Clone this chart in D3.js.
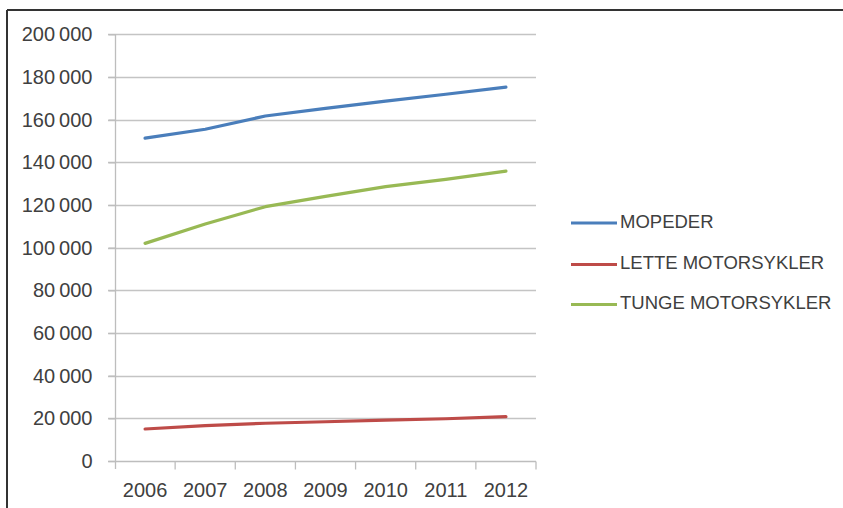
<!DOCTYPE html>
<html>
<head>
<meta charset="utf-8">
<script src="https://cdn.jsdelivr.net/npm/d3@7"></script>
<style>
  html, body { margin: 0; padding: 0; background: #fff; }
  svg { display: block; }
  text { font-family: "Liberation Sans", Arial, sans-serif; fill: #404040; }
</style>
</head>
<body>
<script>
const years = ["2006", "2007", "2008", "2009", "2010", "2011", "2012"];
const seriesNames = ["MOPEDER", "LETTE MOTORSYKLER", "TUNGE MOTORSYKLER"];
const mopeder = [151300, 155500, 161700, 165300, 168700, 171900, 175200];
const lette = [15000, 16600, 17700, 18400, 19200, 19800, 20800];
const tunge = [102000, 111100, 119200, 124000, 128600, 132000, 135900];
const seriesColors = ["#4a7ebb", "#be4b48", "#98b954"];
const yTicks = [0, 20000, 40000, 60000, 80000, 100000, 120000, 140000, 160000, 180000, 200000];

const W = 843, H = 508;
const svg = d3.select("body").append("svg").attr("width", W).attr("height", H);

// frame (top and left borders)
svg.append("line").attr("x1", 7).attr("x2", W).attr("y1", 10).attr("y2", 10)
  .attr("stroke", "#333").attr("stroke-width", 2);
svg.append("line").attr("x1", 7).attr("x2", 7).attr("y1", 10).attr("y2", H)
  .attr("stroke", "#333").attr("stroke-width", 2);

const x = d3.scaleBand().domain(years).range([115, 536]).padding(0);
const y = d3.scaleLinear().domain([0, 200000]).range([461, 34.3]);

const loc = d3.formatLocale({ decimal: ",", thousands: "\u2009", grouping: [3], currency: ["", ""] });
const fmt = loc.format(",d");

// gridlines
svg.append("g").selectAll("line").data(yTicks.filter(d => d > 0)).join("line")
  .attr("x1", 108).attr("x2", 536)
  .attr("y1", d => Math.round(y(d)) + 0.5).attr("y2", d => Math.round(y(d)) + 0.5)
  .attr("stroke", "#c4c4c4").attr("stroke-width", 1.3);

// y axis
const yAxis = d3.axisLeft(y).tickValues(yTicks).tickSize(7).tickPadding(16).tickFormat(fmt);
const gy = svg.append("g").attr("transform", "translate(115.5,0)").call(yAxis);
gy.select(".domain").remove();
gy.append("line").attr("x1", 0).attr("x2", 0).attr("y1", y(200000)).attr("y2", 469)
  .attr("stroke", "#bdbdbd").attr("stroke-width", 1.3);
gy.selectAll(".tick line").attr("stroke", "#bdbdbd").attr("stroke-width", 1.3);
gy.selectAll(".tick text").attr("font-size", 20).attr("fill", "#404040")
  .style("font-family", "'Liberation Sans', Arial, sans-serif");

// x axis
const gx = svg.append("g").attr("transform", "translate(0,461.5)");
gx.append("line").attr("x1", 108).attr("x2", 536).attr("y1", 0).attr("y2", 0)
  .attr("stroke", "#bdbdbd").attr("stroke-width", 1.3);
const bounds = years.map(d => x(d)).concat([x.range()[1]]).slice(1);
gx.selectAll("line.tk").data(bounds).join("line").attr("class", "tk")
  .attr("x1", d => d).attr("x2", d => d).attr("y1", 0).attr("y2", 8)
  .attr("stroke", "#bdbdbd").attr("stroke-width", 1.3);
gx.selectAll("text").data(years).join("text")
  .attr("x", d => x(d) + x.bandwidth() / 2).attr("y", 30)
  .attr("text-anchor", "middle").attr("dominant-baseline", "middle")
  .attr("font-size", 20).text(d => d);

// lines
const allSeries = [mopeder, lette, tunge];
const line = d3.line().x((d, i) => x(years[i]) + x.bandwidth() / 2).y(d => y(d));
svg.append("g").selectAll("path").data(allSeries).join("path")
  .attr("d", d => line(d)).attr("fill", "none")
  .attr("stroke", (d, i) => seriesColors[i]).attr("stroke-width", 3.2)
  .attr("stroke-linecap", "round").attr("stroke-linejoin", "round");

// legend
const legY = [223, 264.5, 304.5];
const lg = svg.append("g").selectAll("g").data(seriesNames).join("g")
  .attr("transform", (d, i) => `translate(0,${legY[i]})`);
lg.append("line").attr("x1", 571).attr("x2", 617).attr("y1", 0).attr("y2", 0)
  .attr("stroke", (d, i) => seriesColors[i]).attr("stroke-width", 3.2);
lg.append("text").attr("x", 620).attr("y", 0).attr("dominant-baseline", "middle")
  .attr("font-size", 18.5).text(d => d);
</script>
</body>
</html>
